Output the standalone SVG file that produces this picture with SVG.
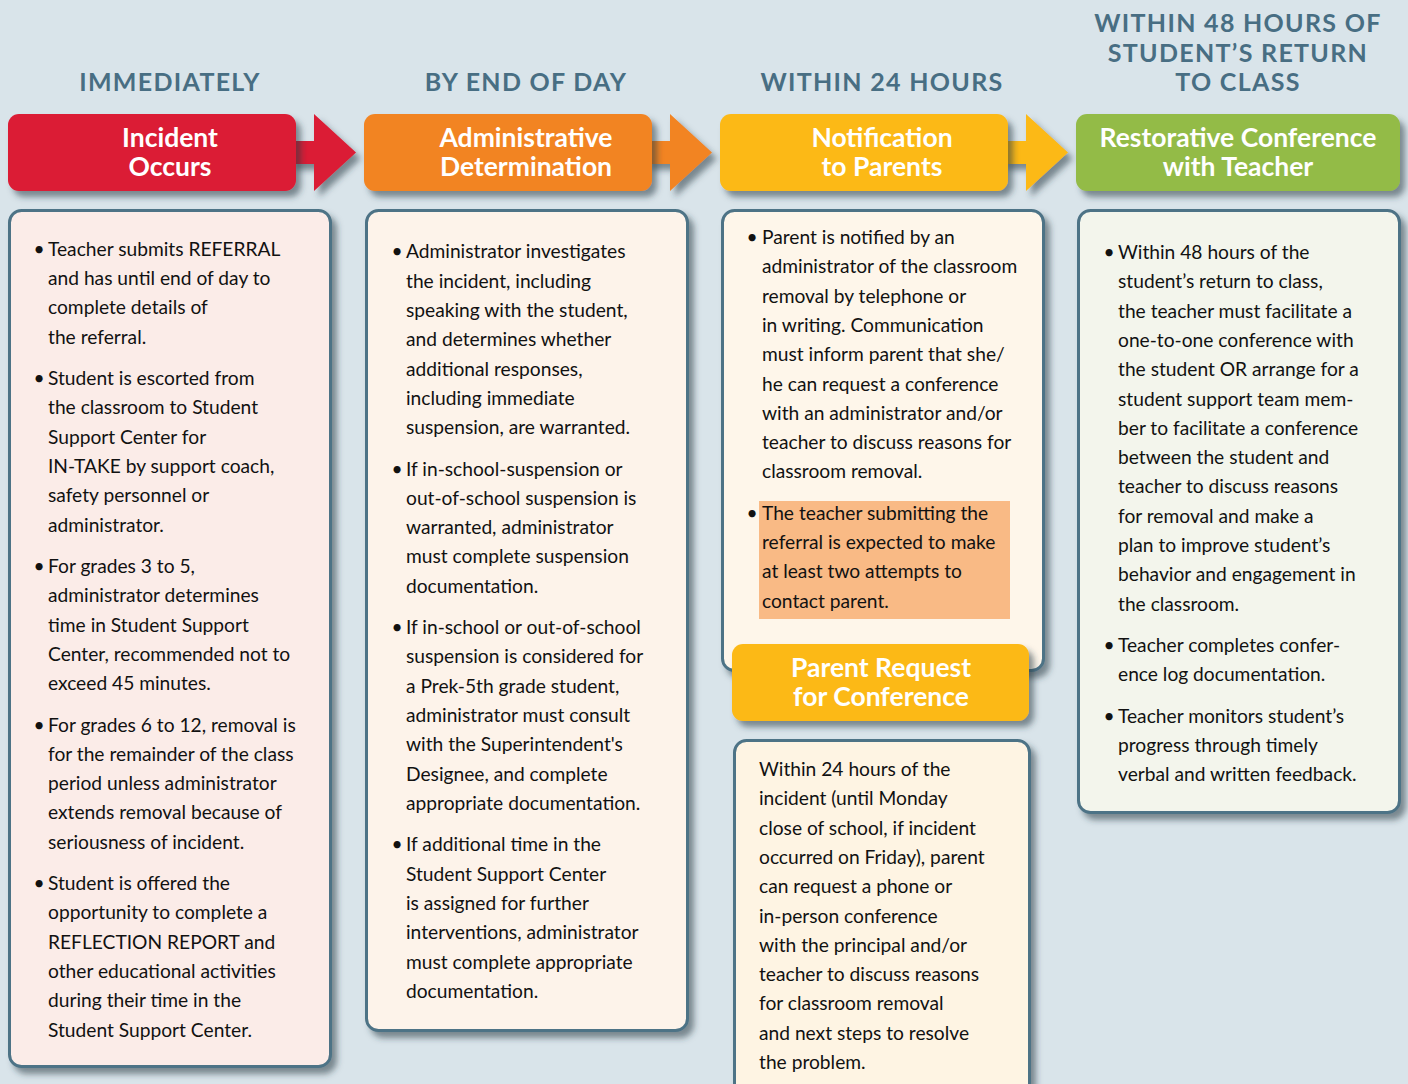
<svg xmlns="http://www.w3.org/2000/svg" width="1408" height="1084" viewBox="0 0 1408 1084">
<defs>
<filter id="sh" x="-10%" y="-10%" width="125%" height="130%">
<feDropShadow dx="5" dy="6" stdDeviation="3" flood-color="#2a3a44" flood-opacity="0.55"/>
</filter>
<style>
.title{font-family:"Lato","Liberation Sans",sans-serif;font-weight:700;font-size:25px;fill:#486e83;letter-spacing:1.3px;text-anchor:middle}
.head{font-family:"Lato","Liberation Sans",sans-serif;font-weight:700;font-size:26.5px;fill:#ffffff;text-anchor:middle}
.body{font-family:"Lato","Liberation Sans",sans-serif;font-size:19.2px;fill:#111111}
.bul{font-family:"Lato","Liberation Sans",sans-serif;font-size:19.2px;fill:#111111;text-anchor:middle}
.box{stroke:#4e7386;stroke-width:3}
</style>
</defs>
<rect width="1408" height="1084" fill="#d9e4ea"/>

<g id="titles">
<text class="title" x="170" y="91">IMMEDIATELY</text>
<text class="title" x="526" y="91">BY END OF DAY</text>
<text class="title" x="882" y="91">WITHIN 24 HOURS</text>
<text class="title" x="1238" y="32">WITHIN 48 HOURS OF</text>
<text class="title" x="1238" y="62">STUDENT’S RETURN</text>
<text class="title" x="1238" y="91">TO CLASS</text>
</g>

<g id="connectors" filter="url(#sh)">
<polygon points="290,141 314,141 314,114 356,152.5 314,191 314,164 290,164" fill="#db1b34"/>
<polygon points="646,141 670,141 670,114 712,152.5 670,191 670,164 646,164" fill="#f28422"/>
<polygon points="1002,141 1026,141 1026,114 1068,152.5 1026,191 1026,164 1002,164" fill="#fcb918"/>
</g>

<g id="h-incident">
<rect x="8" y="114" width="288" height="77" rx="11" fill="#db1b34" filter="url(#sh)"/>
<text class="head" x="170" y="147">Incident</text>
<text class="head" x="170" y="176">Occurs</text>
</g>
<g id="h-admin">
<rect x="364" y="114" width="288" height="77" rx="11" fill="#f28422" filter="url(#sh)"/>
<text class="head" x="526" y="147">Administrative</text>
<text class="head" x="526" y="176">Determination</text>
</g>
<g id="h-notify">
<rect x="720" y="114" width="288" height="77" rx="11" fill="#fcb918" filter="url(#sh)"/>
<text class="head" x="882" y="147">Notification</text>
<text class="head" x="882" y="176">to Parents</text>
</g>
<g id="h-restorative">
<rect x="1076" y="114" width="324" height="77" rx="11" fill="#93bb46" filter="url(#sh)"/>
<text class="head" x="1238" y="147">Restorative Conference</text>
<text class="head" x="1238" y="176">with Teacher</text>
</g>

<g id="b-incident">
<rect class="box" x="9.5" y="210.5" width="321" height="856" rx="12" fill="#fbece8" filter="url(#sh)"/>
<g class="body">
<text class="bul" x="39" y="255.7">•</text>
<text x="48" y="255.7">Teacher submits REFERRAL</text>
<text x="48" y="285">and has until end of day to</text>
<text x="48" y="314.3">complete details of</text>
<text x="48" y="343.6">the referral.</text>
<text class="bul" x="39" y="385">•</text>
<text x="48" y="385">Student is escorted from</text>
<text x="48" y="414.3">the classroom to Student</text>
<text x="48" y="443.6">Support Center for</text>
<text x="48" y="472.9">IN-TAKE by support coach,</text>
<text x="48" y="502.2">safety personnel or</text>
<text x="48" y="531.5">administrator.</text>
<text class="bul" x="39" y="572.9">•</text>
<text x="48" y="572.9">For grades 3 to 5,</text>
<text x="48" y="602.2">administrator determines</text>
<text x="48" y="631.5">time in Student Support</text>
<text x="48" y="660.8">Center, recommended not to</text>
<text x="48" y="690.1">exceed 45 minutes.</text>
<text class="bul" x="39" y="731.5">•</text>
<text x="48" y="731.5">For grades 6 to 12, removal is</text>
<text x="48" y="760.8">for the remainder of the class</text>
<text x="48" y="790.1">period unless administrator</text>
<text x="48" y="819.4">extends removal because of</text>
<text x="48" y="848.7">seriousness of incident.</text>
<text class="bul" x="39" y="890.1">•</text>
<text x="48" y="890.1">Student is offered the</text>
<text x="48" y="919.4">opportunity to complete a</text>
<text x="48" y="948.7">REFLECTION REPORT and</text>
<text x="48" y="978">other educational activities</text>
<text x="48" y="1007.3">during their time in the</text>
<text x="48" y="1036.6">Student Support Center.</text>
</g>
</g>

<g id="b-admin">
<rect class="box" x="366.5" y="210.5" width="321" height="820" rx="12" fill="#fdf3ea" filter="url(#sh)"/>
<g class="body">
<text class="bul" x="397" y="258.3">•</text>
<text x="406" y="258.3">Administrator investigates</text>
<text x="406" y="287.6">the incident, including</text>
<text x="406" y="316.9">speaking with the student,</text>
<text x="406" y="346.2">and determines whether</text>
<text x="406" y="375.5">additional responses,</text>
<text x="406" y="404.8">including immediate</text>
<text x="406" y="434.1">suspension, are warranted.</text>
<text class="bul" x="397" y="475.5">•</text>
<text x="406" y="475.5">If in-school-suspension or</text>
<text x="406" y="504.8">out-of-school suspension is</text>
<text x="406" y="534.1">warranted, administrator</text>
<text x="406" y="563.4">must complete suspension</text>
<text x="406" y="592.7">documentation.</text>
<text class="bul" x="397" y="634.1">•</text>
<text x="406" y="634.1">If in-school or out-of-school</text>
<text x="406" y="663.4">suspension is considered for</text>
<text x="406" y="692.7">a Prek-5th grade student,</text>
<text x="406" y="722">administrator must consult</text>
<text x="406" y="751.3">with the Superintendent's</text>
<text x="406" y="780.6">Designee, and complete</text>
<text x="406" y="809.9">appropriate documentation.</text>
<text class="bul" x="397" y="851.3">•</text>
<text x="406" y="851.3">If additional time in the</text>
<text x="406" y="880.6">Student Support Center</text>
<text x="406" y="909.9">is assigned for further</text>
<text x="406" y="939.2">interventions, administrator</text>
<text x="406" y="968.5">must complete appropriate</text>
<text x="406" y="997.8">documentation.</text>
</g>
</g>

<g id="b-notify">
<rect class="box" x="722.5" y="210.5" width="321" height="460" rx="12" fill="#fef6ea" filter="url(#sh)"/>
<rect x="759" y="501" width="251" height="118" fill="#f9ba85"/>
<g class="body">
<text class="bul" x="752" y="244">•</text>
<text x="762" y="244">Parent is notified by an</text>
<text x="762" y="273.3">administrator of the classroom</text>
<text x="762" y="302.6">removal by telephone or</text>
<text x="762" y="331.9">in writing. Communication</text>
<text x="762" y="361.2">must inform parent that she/</text>
<text x="762" y="390.5">he can request a conference</text>
<text x="762" y="419.8">with an administrator and/or</text>
<text x="762" y="449.1">teacher to discuss reasons for</text>
<text x="762" y="478.4">classroom removal.</text>
<text class="bul" x="752" y="519.8">•</text>
<text x="762" y="519.8">The teacher submitting the</text>
<text x="762" y="549.1">referral is expected to make</text>
<text x="762" y="578.4">at least two attempts to</text>
<text x="762" y="607.7">contact parent.</text>
</g>
</g>

<g id="h-parent-request">
<rect x="732" y="644" width="297" height="77" rx="11" fill="#fcb918" filter="url(#sh)"/>
<text class="head" x="881" y="677">Parent Request</text>
<text class="head" x="881" y="706">for Conference</text>
</g>

<g id="b-parent-request">
<rect class="box" x="734.5" y="740.5" width="295" height="360" rx="12" fill="#fef4e3" filter="url(#sh)"/>
<g class="body">
<text x="759" y="776">Within 24 hours of the</text>
<text x="759" y="805.3">incident (until Monday</text>
<text x="759" y="834.6">close of school, if incident</text>
<text x="759" y="863.9">occurred on Friday), parent</text>
<text x="759" y="893.2">can request a phone or</text>
<text x="759" y="922.5">in-person conference</text>
<text x="759" y="951.8">with the principal and/or</text>
<text x="759" y="981.1">teacher to discuss reasons</text>
<text x="759" y="1010.4">for classroom removal</text>
<text x="759" y="1039.7">and next steps to resolve</text>
<text x="759" y="1069">the problem.</text>
</g>
</g>

<g id="b-restorative">
<rect class="box" x="1078.5" y="210.5" width="321" height="602" rx="12" fill="#f3f5ec" filter="url(#sh)"/>
<g class="body">
<text class="bul" x="1109" y="259">•</text>
<text x="1118" y="259">Within 48 hours of the</text>
<text x="1118" y="288.3">student’s return to class,</text>
<text x="1118" y="317.6">the teacher must facilitate a</text>
<text x="1118" y="346.9">one-to-one conference with</text>
<text x="1118" y="376.2">the student OR arrange for a</text>
<text x="1118" y="405.5">student support team mem-</text>
<text x="1118" y="434.8">ber to facilitate a conference</text>
<text x="1118" y="464.1">between the student and</text>
<text x="1118" y="493.4">teacher to discuss reasons</text>
<text x="1118" y="522.7">for removal and make a</text>
<text x="1118" y="552">plan to improve student’s</text>
<text x="1118" y="581.3">behavior and engagement in</text>
<text x="1118" y="610.6">the classroom.</text>
<text class="bul" x="1109" y="652">•</text>
<text x="1118" y="652">Teacher completes confer-</text>
<text x="1118" y="681.3">ence log documentation.</text>
<text class="bul" x="1109" y="722.7">•</text>
<text x="1118" y="722.7">Teacher monitors student’s</text>
<text x="1118" y="752">progress through timely</text>
<text x="1118" y="781.3">verbal and written feedback.</text>
</g>
</g>
</svg>
